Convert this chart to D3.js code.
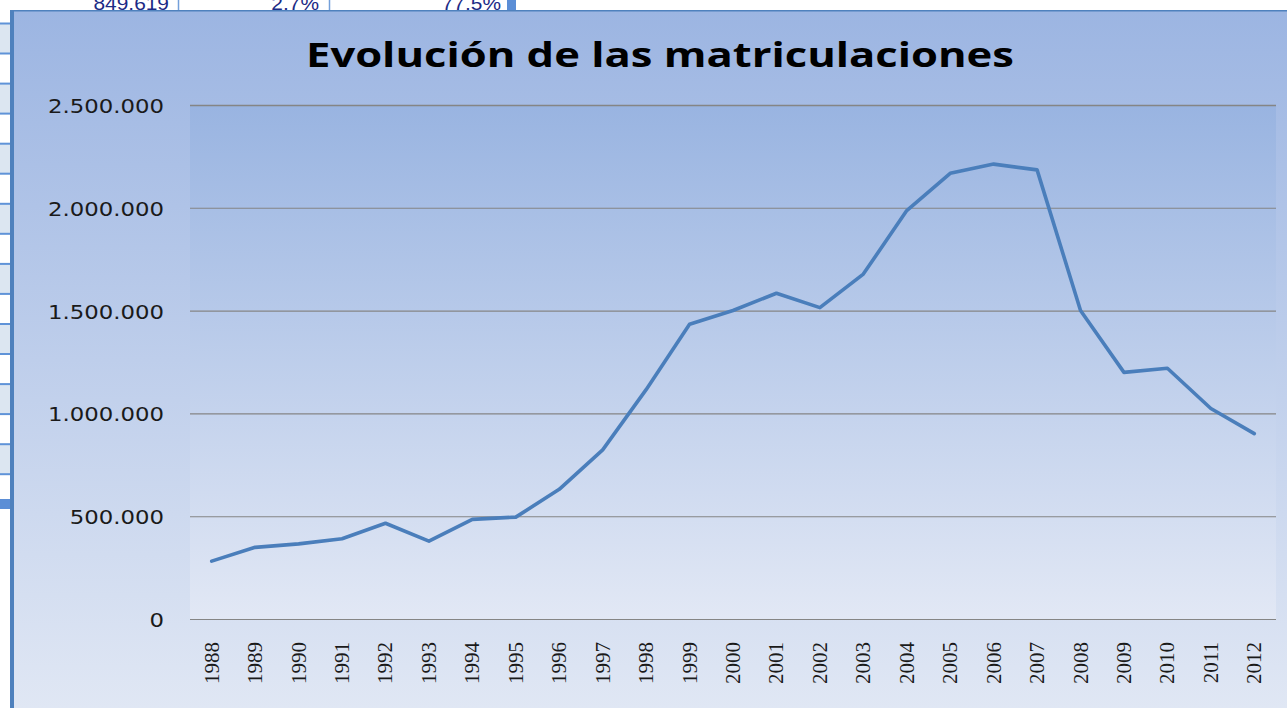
<!DOCTYPE html>
<html>
<head>
<meta charset="utf-8">
<script src="https://cdn.jsdelivr.net/npm/d3@7"></script>
<style>
  html, body { margin: 0; padding: 0; background: #fff; overflow: hidden; }
  svg { display: block; }
</style>
</head>
<body>
<svg id="chart" width="1287" height="708"></svg>
<script>
// ---- data ----
const years = ["1988","1989","1990","1991","1992","1993","1994","1995","1996","1997",
  "1998","1999","2000","2001","2002","2003","2004","2005","2006","2007",
  "2008","2009","2010","2011","2012"];
const registrations = [284000, 351000, 368000, 393000, 468000, 381000, 487000, 498000,
  633000, 825000, 1118000, 1436000, 1503000, 1587000, 1517000, 1680000, 1989000,
  2170000, 2215000, 2187000, 1503000, 1202000, 1222000, 1026000, 904000];
const yTicks = [0, 500000, 1000000, 1500000, 2000000, 2500000];
const chartTitle = "Evolución de las matriculaciones";
const sheetValues = ["849.619", "2,7%", "77,5%"];

// ---- drawing ----
const W = 1287, H = 708;
const svg = d3.select("#chart");
const locale = d3.formatLocale({decimal: ",", thousands: ".", grouping: [3], currency: ["", " €"]});
const fmt = locale.format(",");

const defs = svg.append("defs");
function vGrad(id, y1, y2, c1, c2) {
  const g = defs.append("linearGradient").attr("id", id)
    .attr("gradientUnits", "userSpaceOnUse")
    .attr("x1", 0).attr("x2", 0).attr("y1", y1).attr("y2", y2);
  g.append("stop").attr("offset", 0).attr("stop-color", c1);
  g.append("stop").attr("offset", 1).attr("stop-color", c2);
}
vGrad("chartBg", 11, 708, "#9cb5e2", "#e0e7f4");
vGrad("plotBg", 105.5, 619.5, "#99b4e1", "#e2e8f5");

// spreadsheet behind the chart (left strip)
svg.append("rect").attr("x", 0).attr("y", 0).attr("width", W).attr("height", H).attr("fill", "#fff");
const strip = svg.append("g");
for (let k = 0; k < 8; k++) {
  const y0 = 23.5 + k * 60.1;
  strip.append("rect").attr("x", 0).attr("y", y0).attr("width", 11).attr("height", 30).attr("fill", "#dce6f1");
  strip.append("rect").attr("x", 0).attr("y", y0 - 1).attr("width", 11).attr("height", 2).attr("fill", "#5f93d8");
  strip.append("rect").attr("x", 0).attr("y", y0 + 29).attr("width", 11).attr("height", 2).attr("fill", "#5f93d8");
}
strip.append("rect").attr("x", 0).attr("y", 499).attr("width", 11).attr("height", 10).attr("fill", "#5b8ed6");

// spreadsheet top strip
const sheetRight = [169, 319, 501];
const sheet = svg.append("g");
sheetValues.forEach((v, i) => {
  sheet.append("text")
    .attr("transform", `translate(${sheetRight[i]},10) scale(1.1,1)`)
    .attr("text-anchor", "end")
    .attr("font-family", "Liberation Sans, Arial, sans-serif")
    .attr("font-size", 19)
    .attr("fill", "#1c2b86")
    .text(v);
});
[178.5, 329.5].forEach(x => sheet.append("rect").attr("x", x - 0.75).attr("y", 0).attr("width", 1.5).attr("height", 11).attr("fill", "#74a0da"));
sheet.append("rect").attr("x", 507).attr("y", 0).attr("width", 9).attr("height", 11).attr("fill", "#5b8ed6");

// chart area
svg.append("rect").attr("x", 12).attr("y", 10.5).attr("width", W).attr("height", H).attr("fill", "url(#chartBg)");
svg.append("rect").attr("x", 10).attr("y", 10).attr("width", W).attr("height", 1.5).attr("fill", "#4f81bd");
svg.append("rect").attr("x", 10).attr("y", 10).attr("width", 4).attr("height", H).attr("fill", "#4f81bd");

// scales
const plot = {left: 190, right: 1276, top: 105.5, bottom: 619.5};
const x = d3.scalePoint().domain(years).range([plot.left, plot.right]).padding(0.5);
const y = d3.scaleLinear().domain([0, 2500000]).range([plot.bottom, plot.top]);

svg.append("rect").attr("x", plot.left).attr("y", plot.top)
  .attr("width", plot.right - plot.left).attr("height", plot.bottom - plot.top)
  .attr("fill", "url(#plotBg)");

// gridlines
svg.append("g").selectAll("line").data(yTicks).join("line")
  .attr("x1", plot.left).attr("x2", plot.right)
  .attr("y1", d => y(d)).attr("y2", d => y(d))
  .attr("stroke", "#858585")
  .attr("stroke-width", d => (d === 2500000 ? 1.6 : 1.1));

// y labels
svg.append("g").selectAll("text").data(yTicks).join("text")
  .attr("transform", d => `translate(164,${y(d) + 7.5}) scale(1.2,1)`)
  .attr("text-anchor", "end")
  .attr("font-family", "DejaVu Sans, Verdana, sans-serif")
  .attr("font-size", 19)
  .attr("fill", "#1a1a1a")
  .text(d => fmt(d));

// x labels
svg.append("g").selectAll("text").data(years).join("text")
  .attr("transform", d => `translate(${x(d) + 7},642) rotate(-90)`)
  .attr("text-anchor", "end")
  .attr("font-family", "Liberation Serif, Times New Roman, serif")
  .attr("font-size", 21)
  .attr("fill", "#1a1a1a")
  .text(d => d);

// line
const line = d3.line().x((d, i) => x(years[i])).y(d => y(d));
svg.append("path").datum(registrations)
  .attr("d", line)
  .attr("fill", "none")
  .attr("stroke", "#4a7ebb")
  .attr("stroke-width", 3.6)
  .attr("stroke-linejoin", "round")
  .attr("stroke-linecap", "round");

// title
const t = svg.append("text")
  .attr("x", 306).attr("y", 67)
  .attr("font-family", "Open Sans, Noto Sans, sans-serif")
  .attr("font-weight", "bold")
  .attr("font-size", 34)
  .attr("fill", "#000")
  .text(chartTitle);
t.attr("textLength", 708).attr("lengthAdjust", "spacingAndGlyphs");
</script>
</body>
</html>
